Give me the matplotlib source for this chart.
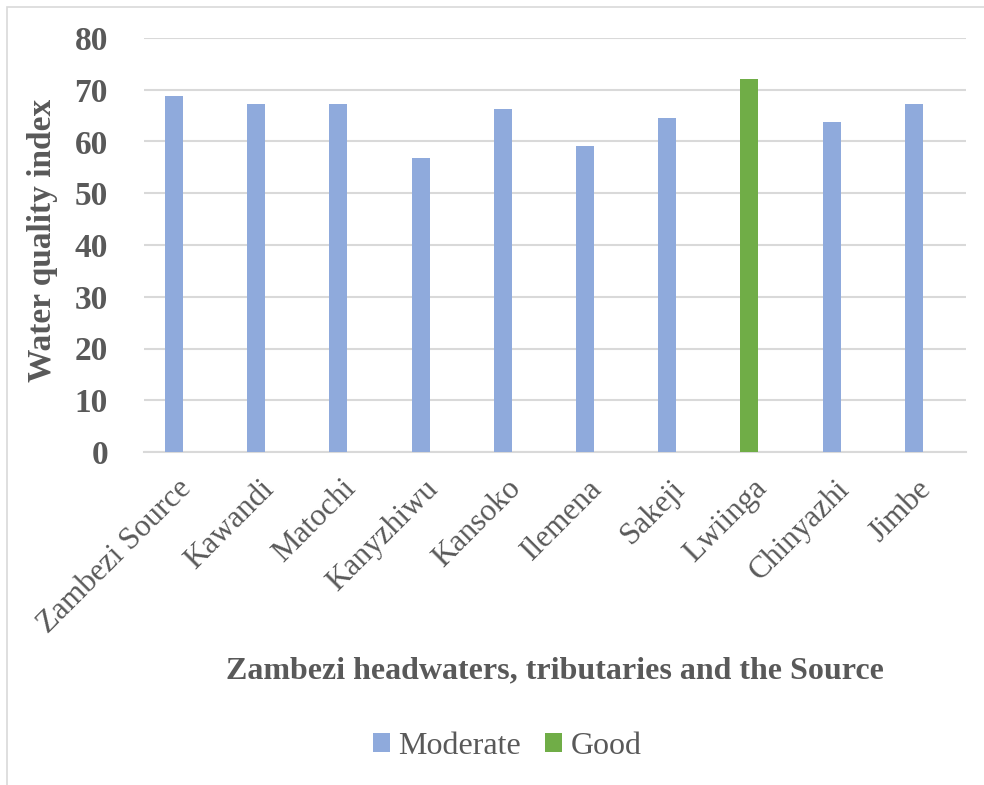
import matplotlib
matplotlib.use("Agg")
import matplotlib.pyplot as plt
import matplotlib.transforms as mtransforms
from matplotlib.patches import Rectangle, Patch

categories = ["Zambezi Source", "Kawandi", "Matochi", "Kanyzhiwu", "Kansoko",
              "Ilemena", "Sakeji", "Lwiinga", "Chinyazhi", "Jimbe"]
values = [68.8, 67.3, 67.3, 56.9, 66.2, 59.1, 64.5, 72.0, 63.8, 67.2]
classes = ["Moderate", "Moderate", "Moderate", "Moderate", "Moderate",
           "Moderate", "Moderate", "Good", "Moderate", "Moderate"]
class_colors = {"Moderate": "#8FAADC", "Good": "#70AD47"}
yticks = [0, 10, 20, 30, 40, 50, 60, 70, 80]

W, H = 984, 785
fig = plt.figure(figsize=(W / 100, H / 100), dpi=100)
plt.rcParams['font.family'] = ['Liberation Serif', 'DejaVu Serif']
txt = "#595959"

ax = fig.add_axes([144 / W, 1 - 452 / H, (966 - 144) / W, (452 - 38) / H])
x = list(range(len(categories)))
colors = [class_colors[c] for c in classes]
bar_offset = -0.135
ax.bar([i + bar_offset for i in x], values, width=0.22, color=colors, zorder=3)
ax.set_xlim(-0.5, len(categories) - 0.5)
ax.set_ylim(0, 80)
ax.set_yticks(yticks)
ax.set_yticklabels([str(t) for t in yticks], fontsize=24, fontweight='bold', color=txt)
ax.set_xticks(x)
ax.set_xticklabels(categories, rotation=45, ha='right', rotation_mode='anchor',
                   fontsize=22.5, color=txt)
ax.tick_params(axis='both', length=0)
ax.tick_params(axis='y', pad=26)
ax.tick_params(axis='x', pad=16)
shift = mtransforms.ScaledTranslation(-8 / 100, 0, fig.dpi_scale_trans)
for lab in ax.get_xticklabels():
    lab.set_transform(lab.get_transform() + shift)
ax.grid(axis='y', color='#D9D9D9', linewidth=1.5, zorder=0)
for s in ['top', 'right', 'left']:
    ax.spines[s].set_visible(False)
ax.spines['bottom'].set_color('#D9D9D9')
ax.spines['bottom'].set_linewidth(1.5)

fig.text(43 / W, 1 - 240 / H, "Water quality index", rotation=90, ha='center', va='center',
         fontsize=24, fontweight='bold', color=txt)
fig.text(555 / W, 1 - 671 / H, "Zambezi headwaters, tributaries and the Source",
         ha='center', va='center', fontsize=23, fontweight='bold', color=txt)

handles = [Patch(facecolor=class_colors[k], label=k) for k in ["Moderate", "Good"]]
fig.legend(handles=handles, loc='center', bbox_to_anchor=(507 / W, 1 - 746 / H), ncol=2,
           frameon=False, fontsize=23, labelcolor=txt, handlelength=0.55, handleheight=0.55,
           handletextpad=0.25, columnspacing=0.75)

fig.patches.append(Rectangle((7 / W, -0.01), 1.1, 1 - 7 / H + 0.01, transform=fig.transFigure,
                             fill=False, edgecolor='#D9D9D9', linewidth=1.2))

fig.savefig("out.png", dpi=100)
